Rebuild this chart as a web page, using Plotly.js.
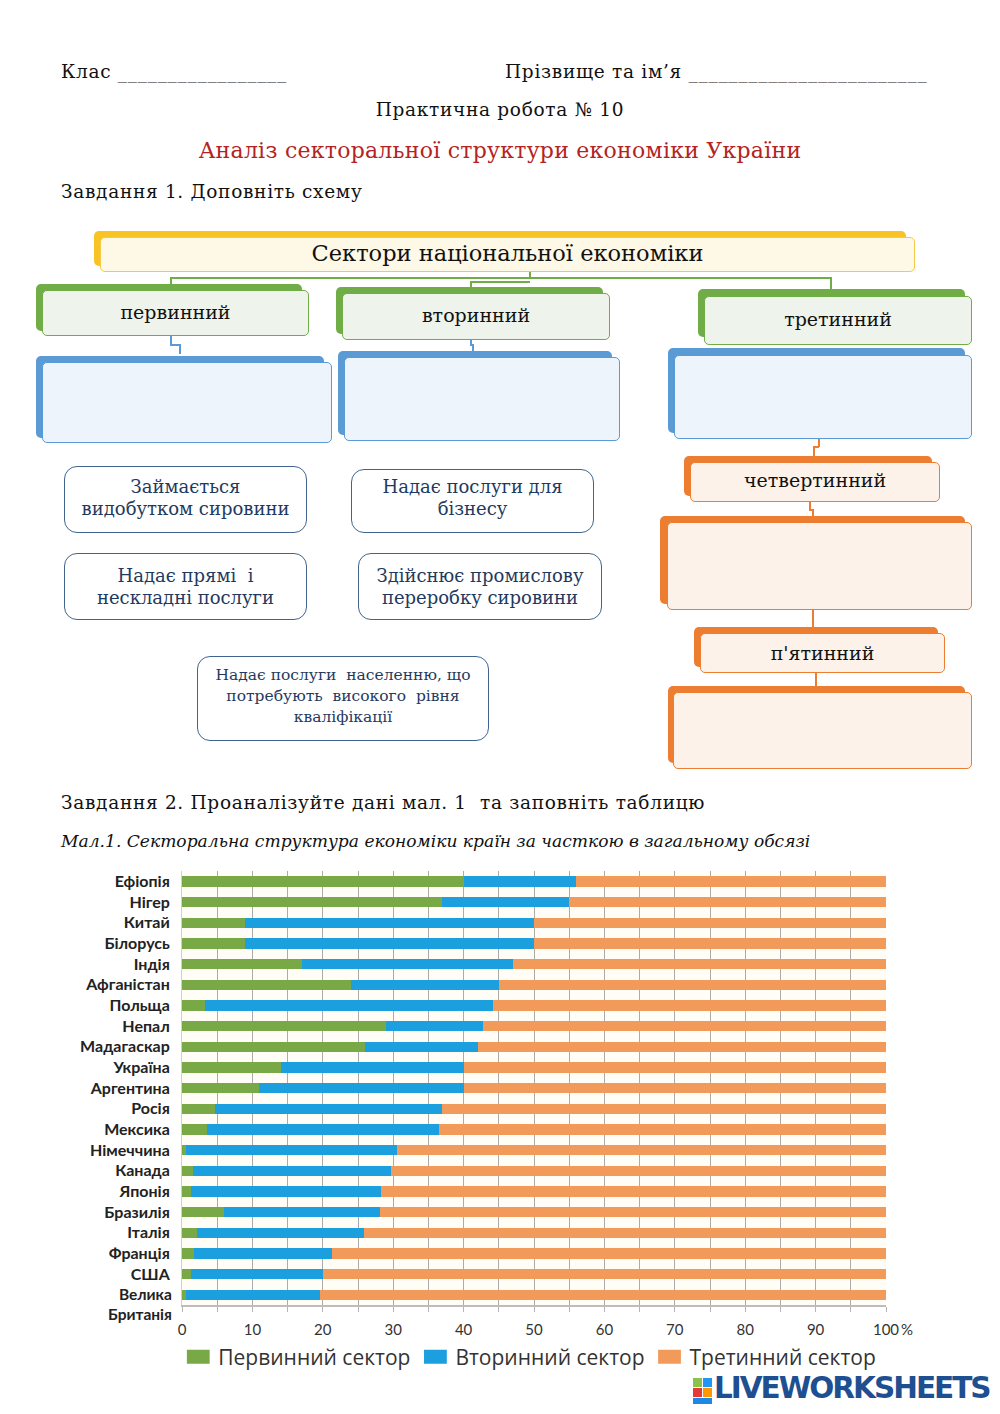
<!DOCTYPE html>
<html>
<head>
<meta charset="utf-8">
<script src="https://cdn.plot.ly/plotly-3.0.1.min.js"></script>
<style>
  html, body { margin:0; padding:0; background:#ffffff; }
  #page { position:relative; width:1000px; height:1414px; overflow:hidden; font-family:"DejaVu Serif", "Liberation Serif", serif; color:#111; }
  .t { position:absolute; white-space:nowrap; }
  .body { font-size:18.5px; letter-spacing:0.7px; }
  .bx { position:absolute; box-sizing:border-box; }
  .back { border-radius:5px; }
  .front { border-radius:5px; display:flex; align-items:center; justify-content:center; font-size:19px; }
  .g.back { background:#70ad47; }
  .g.front { background:#eef3eb; border:1.5px solid #70ad47; }
  .b.back { background:#5b9bd5; }
  .b.front { background:#eef4fb; border:1.5px solid #5b9bd5; }
  .o.back { background:#ed7d31; }
  .o.front { background:#fdf2ea; border:1.5px solid #ed7d31; }
  .y.back { background:#f7c325; }
  .y.front { background:#fef8e6; border:1.5px solid #f4c94e; }
  .rb { position:absolute; box-sizing:border-box; background:#fff; border:1.5px solid #41648f; border-radius:13px;
        display:flex; align-items:center; justify-content:center; text-align:center; color:#1f3a60; font-size:18px; line-height:22px; }
  .ln { position:absolute; background:#70ad47; }
  .lb { position:absolute; background:#5b9bd5; }
  .lo { position:absolute; background:#ed7d31; }
  #chart { position:absolute; left:0; top:860px; width:1000px; height:554px; }
</style>
</head>
<body>
<div id="page">
  <div class="t body" style="left:61px; top:61px;">Клас _________________</div>
  <div class="t body" style="left:505px; top:61px;">Прізвище та ім’я ________________________</div>
  <div class="t body" style="left:0; width:1000px; text-align:center; top:99px;">Практична робота № 10</div>
  <div class="t" style="left:0; width:1000px; text-align:center; top:138px; font-size:22px; letter-spacing:0.25px; color:#b42323;">Аналіз секторальної структури економіки України</div>
  <div class="t body" style="left:61px; top:181px;">Завдання 1. Доповніть схему</div>

  <!-- top box -->
  <div class="bx y back" style="left:94px; top:231px; width:812px; height:35px;"></div>
  <div class="bx y front" style="left:100px; top:237px; width:815px; height:35px; padding-bottom:4px;"><span style="font-size:22.5px;">Сектори національної економіки</span></div>

  <!-- connectors green -->
  <div class="ln" style="left:529px; top:272px; width:1.5px; height:6px;"></div>
  <div class="ln" style="left:170px; top:277px; width:661px; height:1.5px;"></div>
  <div class="ln" style="left:170px; top:277px; width:1.5px; height:9px;"></div>
  <div class="ln" style="left:470px; top:281px; width:1.5px; height:7px;"></div>
  <div class="ln" style="left:470px; top:281px; width:60px; height:1.5px;"></div>
  <div class="ln" style="left:830px; top:277px; width:1.5px; height:13px;"></div>

  <!-- green boxes -->
  <div class="bx g back" style="left:36px; top:284px; width:266px; height:47px;"></div>
  <div class="bx g front" style="left:42px; top:290px; width:267px; height:46px; padding-bottom:2px;">первинний</div>
  <div class="bx g back" style="left:336px; top:287px; width:267px; height:47px;"></div>
  <div class="bx g front" style="left:342px; top:293px; width:268px; height:47px; padding-bottom:4px;">вторинний</div>
  <div class="bx g back" style="left:698px; top:289px; width:267px; height:48px;"></div>
  <div class="bx g front" style="left:704px; top:296px; width:268px; height:49px; padding-bottom:4px;">третинний</div>

  <!-- blue connectors -->
  <div class="lb" style="left:170px; top:336px; width:1.5px; height:9px;"></div>
  <div class="lb" style="left:170px; top:344px; width:10px; height:1.5px;"></div>
  <div class="lb" style="left:179px; top:344px; width:1.5px; height:10px;"></div>
  <div class="lb" style="left:470px; top:340px; width:1.5px; height:5px;"></div>
  <div class="lb" style="left:470px; top:344px; width:3px; height:1.5px;"></div>
  <div class="lb" style="left:472px; top:344px; width:1.5px; height:7px;"></div>

  <!-- blue boxes -->
  <div class="bx b back" style="left:36px; top:356px; width:288px; height:82px;"></div>
  <div class="bx b front" style="left:42px; top:362px; width:290px; height:81px;"></div>
  <div class="bx b back" style="left:338px; top:351px; width:274px; height:84px;"></div>
  <div class="bx b front" style="left:344px; top:357px; width:276px; height:84px;"></div>
  <div class="bx b back" style="left:668px; top:348px; width:297px; height:85px;"></div>
  <div class="bx b front" style="left:674px; top:355px; width:298px; height:84px;"></div>

  <!-- orange connectors -->
  <div class="lo" style="left:818px; top:439px; width:1.5px; height:8px;"></div>
  <div class="lo" style="left:813px; top:446px; width:6px; height:1.5px;"></div>
  <div class="lo" style="left:813px; top:446px; width:1.5px; height:10px;"></div>
  <div class="lo" style="left:809px; top:502px; width:1.5px; height:8px;"></div>
  <div class="lo" style="left:809px; top:509px; width:4px; height:1.5px;"></div>
  <div class="lo" style="left:812px; top:509px; width:1.5px; height:8px;"></div>
  <div class="lo" style="left:812px; top:610px; width:1.5px; height:18px;"></div>
  <div class="lo" style="left:815px; top:673px; width:1.5px; height:14px;"></div>

  <!-- orange boxes -->
  <div class="bx o back" style="left:684px; top:456px; width:248px; height:40px;"></div>
  <div class="bx o front" style="left:690px; top:462px; width:250px; height:40px; padding-bottom:4px;">четвертинний</div>
  <div class="bx o back" style="left:660px; top:516px; width:305px; height:88px;"></div>
  <div class="bx o front" style="left:667px; top:522px; width:305px; height:88px;"></div>
  <div class="bx o back" style="left:694px; top:627px; width:244px; height:40px;"></div>
  <div class="bx o front" style="left:700px; top:633px; width:245px; height:40px;">п'ятинний</div>
  <div class="bx o back" style="left:668px; top:686px; width:297px; height:77px;"></div>
  <div class="bx o front" style="left:673px; top:692px; width:299px; height:77px;"></div>

  <!-- rounded text boxes -->
  <div class="rb" style="left:64px; top:466px; width:243px; height:67px; padding-bottom:4px;">Займається<br>видобутком сировини</div>
  <div class="rb" style="left:351px; top:469px; width:243px; height:64px; padding-bottom:6px;">Надає послуги для<br>бізнесу</div>
  <div class="rb" style="left:64px; top:553px; width:243px; height:67px;">Надає прямі &nbsp;і<br>нескладні послуги</div>
  <div class="rb" style="left:358px; top:553px; width:244px; height:67px;">Здійснює промислову<br>переробку сировини</div>
  <div class="rb" style="left:197px; top:656px; width:292px; height:85px; font-size:15.5px; line-height:21px; padding-bottom:4px;">Надає послуги &nbsp;населенню, що<br>потребують &nbsp;високого &nbsp;рівня<br>кваліфікації</div>

  <div class="t body" style="left:61px; top:792px;">Завдання 2. Проаналізуйте дані мал. 1 &nbsp;та заповніть таблицю</div>
  <div class="t" style="left:61px; top:831px; font-size:17.1px; font-style:italic;">Мал.1. Секторальна структура економіки країн за часткою в загальному обсязі</div>

  <div id="chart"></div>

  <!-- logo -->
  <div class="t" style="left:693px; top:1378px; width:9px; height:9px; background:#8bc34a;"></div>
  <div class="t" style="left:703px; top:1378px; width:9px; height:9px; background:#2196f3;"></div>
  <div class="t" style="left:693px; top:1388px; width:9px; height:9px; background:#e53935;"></div>
  <div class="t" style="left:703px; top:1388px; width:9px; height:9px; background:#ff9800;"></div>
  <div class="t" style="left:693px; top:1398px; width:19px; height:6px; background:#1e88e5;"></div>
  <div class="t" style="left:714px; top:1371px; font-family:'DejaVu Sans', sans-serif; font-weight:bold; font-size:29.5px; letter-spacing:-2px; color:#1d4f91;">LIVEWORKSHEETS</div>
</div>

<script>
// categories top to bottom
var countries = ["Ефіопія","Нігер","Китай","Білорусь","Індія","Афганістан","Польща","Непал","Мадагаскар","Україна",
                 "Аргентина","Росія","Мексика","Німеччина","Канада","Японія","Бразилія","Італія","Франція","США","Велика Британія"];
// shares, %
var primary   = [40, 37, 9, 9, 17, 24, 3.3, 29, 26, 14, 11, 4.7, 3.6, 0.6, 1.6, 1.3, 6, 2.1, 1.7, 1.3, 0.6];
var secondary = [16, 18, 41, 41, 30, 21, 40.9, 13.8, 16, 26, 29, 32.2, 32.9, 30, 28.1, 27, 22.1, 23.8, 19.6, 18.7, 19];
var tertiary  = [44, 45, 50, 50, 53, 55, 55.8, 57.2, 58, 60, 60, 63.1, 63.5, 69.4, 70.3, 71.7, 71.9, 74.1, 78.7, 80, 80.4];
var seriesNames = ["Первинний сектор","Вторинний сектор","Третинний сектор"];
var xTickVals   = [0,5,10,15,20,25,30,35,40,45,50,55,60,65,70,75,80,85,90,95,100];
var xTickLabels = ["0","","10","","20","","30","","40","","50","","60","","70","","80","","90","","100"];
// the long category label is drawn in two lines
var longLabel = "Велика<br>Британія";

var colors = ["#78a946","#1c9fdf","#f19a5a"];
var vals = [primary, secondary, tertiary];
var traces = vals.map(function(v, i){
  return { type:"bar", orientation:"h", y:countries, x:v, name:seriesNames[i],
           marker:{color:colors[i], line:{width:0}}, width:0.5, hoverinfo:"x+y" };
});

var font = "Lato, 'Open Sans', sans-serif";
var yTickText = countries.map(function(c, i){ return i === countries.length-1 ? "" : c; });
var lastCat = countries[countries.length-1];
var n = countries.length;
var layout = {
  width:1000, height:554,
  margin:{l:182, r:114, t:11, b:109},
  barmode:"stack",
  paper_bgcolor:"rgba(0,0,0,0)",
  plot_bgcolor:"#fffdf6",
  showlegend:true,
  legend:{orientation:"h", x:0.494, xanchor:"center", y:-0.12, yanchor:"middle",
          font:{family:"'Open Sans', sans-serif", size:21, color:"#333"}, traceorder:"normal", itemwidth:30},
  xaxis:{range:[0,100], tickmode:"array", tickvals:xTickVals, ticktext:xTickLabels,
         showgrid:true, gridcolor:"#ababab", gridwidth:1,
         ticks:"outside", ticklen:5, tickcolor:"#b5b5b5", ticklabelstandoff:5,
         showline:true, linecolor:"#bdbdbd", linewidth:2, zeroline:false,
         tickfont:{family:font, size:15, color:"#333"}, fixedrange:true},
  yaxis:{type:"category", categoryorder:"array", categoryarray:countries, range:[n-0.5, -0.5], autorange:false,
         tickmode:"array", tickvals:countries, ticktext:yTickText,
         showgrid:false, ticks:"", ticklabelstandoff:8,
         showline:true, linecolor:"#d0d0d0", linewidth:1,
         tickfont:{family:font, size:16, color:"#222", weight:"bold"}, fixedrange:true},
  annotations:[
    {text:"%", xref:"paper", yref:"paper", x:1.03, xanchor:"center", y:-0.055, yanchor:"middle", showarrow:false,
     font:{family:font, size:15, color:"#333"}},
    {text:longLabel, xref:"paper", yref:"y", x:0, y:lastCat, xanchor:"right", yanchor:"middle", align:"right",
     xshift:-8, yshift:-9, showarrow:false, font:{family:font, size:15.5, color:"#222", weight:"bold"}}
  ]
};
Plotly.newPlot("chart", traces, layout, {displayModeBar:false, staticPlot:true}).then(function(gd){
  // widen legend swatches to the reference's rectangular keys (keep existing placement)
  var pts = gd.querySelectorAll(".legend .legendpoints path");
  pts.forEach(function(p){
    var tr = p.getAttribute("transform") || "";
    p.setAttribute("transform", tr + " scale(1.9,1.15)");
  });
});
</script>
</body>
</html>
